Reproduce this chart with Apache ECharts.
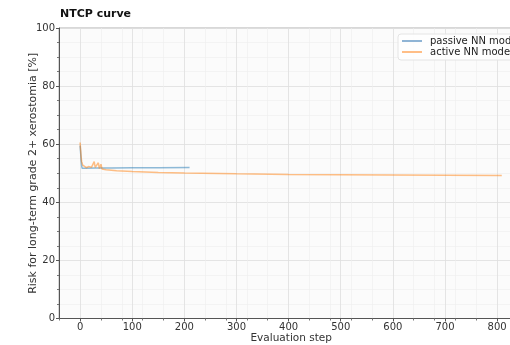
<!DOCTYPE html>
<html>
<head>
<meta charset="utf-8">
<script src="https://cdn.jsdelivr.net/npm/echarts@6/dist/echarts.min.js"></script>
<style>
  html, body { margin: 0; padding: 0; background: #fff; overflow: hidden; }
  #chart { width: 524px; height: 345px; }
</style>
</head>
<body>
<div id="chart"></div>
<script>
// NTCP risk per evaluation step for the two optimisation runs
const passiveSteps = [0, 1, 2, 3, 4, 10, 30, 60, 100, 150, 210];
const passiveRisk  = [59.5, 57.0, 54.5, 52.5, 51.7, 51.7, 51.8, 51.8, 51.9, 51.9, 52.0];

const activeSteps = [0, 1, 2, 3, 5, 8, 12, 16, 19, 22, 25, 27, 29, 32, 35, 37, 40, 42, 44, 50, 70, 100, 150, 200, 300, 400, 500, 600, 700, 809];
const activeRisk  = [60.6, 58.0, 55.5, 54.0, 52.8, 52.2, 51.9, 52.3, 51.9, 52.1, 52.0, 54.0, 52.0, 51.7, 53.6, 51.6, 53.1, 51.5, 51.4, 51.2, 50.9, 50.6, 50.3, 50.1, 49.8, 49.6, 49.5, 49.4, 49.3, 49.2];

const xTicks = [0, 100, 200, 300, 400, 500, 600, 700, 800];

const pairs = (xs, ys) => xs.map((x, i) => [x, ys[i]]);

const chart = echarts.init(document.getElementById('chart'));
const FONT = 'DejaVu Sans';

chart.setOption({
  animation: false,
  textStyle: { fontFamily: FONT },
  title: {
    text: 'NTCP curve',
    left: 55, top: 4,
    textStyle: { fontFamily: FONT, fontSize: 11, fontWeight: 'bold', color: '#111' }
  },
  legend: {
    orient: 'vertical',
    left: 398, top: 34,
    itemWidth: 20, itemHeight: 2, itemGap: 1,
    padding: [2, 8, 3, 4],
    backgroundColor: 'rgba(255,255,255,0.8)',
    borderColor: '#e4e4e4', borderWidth: 1, borderRadius: 3,
    icon: 'rect',
    textStyle: { fontFamily: FONT, fontSize: 10, color: '#222', padding: [0, 0, 0, 3] },
    data: ['passive NN model', 'active NN model']
  },
  grid: {
    left: 59, right: 0.6, top: 28, bottom: 26.5,
    outerBoundsMode: 'none',
    show: true, backgroundColor: '#fbfbfb', borderColor: '#b0b0b0', borderWidth: 1
  },
  xAxis: {
    type: 'value', min: -40.5, max: 850.5,
    customValues: xTicks,
    name: 'Evaluation step', nameLocation: 'middle', nameGap: 14.5, nameMoveOverlap: false,
    nameTextStyle: { fontFamily: FONT, fontSize: 10.5, color: '#333' },
    axisLine: { show: true, onZero: false, lineStyle: { color: '#555', width: 1 } },
    axisTick: { show: true, length: 3, lineStyle: { color: '#555' }, customValues: xTicks },
    axisLabel: { fontFamily: FONT, fontSize: 10, color: '#333', margin: 4, customValues: xTicks },
    splitLine: { show: true, lineStyle: { color: '#dedede', width: 0.8 } },
    minorTick: { show: true, splitNumber: 5, length: 2, lineStyle: { color: '#777' } },
    minorSplitLine: { show: true, lineStyle: { color: '#eeeeee', width: 0.6 } }
  },
  yAxis: {
    type: 'value', min: 0, max: 100, interval: 20,
    name: 'Risk for long-term grade 2+ xerostomia [%]', nameLocation: 'middle', nameGap: 20, nameMoveOverlap: false,
    nameTextStyle: { fontFamily: FONT, fontSize: 11, color: '#333' },
    axisLine: { show: true, onZero: false, lineStyle: { color: '#555', width: 1 } },
    axisTick: { show: true, length: 3, lineStyle: { color: '#555' } },
    axisLabel: { fontFamily: FONT, fontSize: 10, color: '#333', margin: 4 },
    splitLine: { show: true, lineStyle: { color: '#dedede', width: 0.8 } },
    minorTick: { show: true, splitNumber: 4, length: 2, lineStyle: { color: '#777' } },
    minorSplitLine: { show: true, lineStyle: { color: '#eeeeee', width: 0.6 } }
  },
  series: [
    {
      name: 'passive NN model', type: 'line', showSymbol: false,
      data: pairs(passiveSteps, passiveRisk),
      itemStyle: { color: '#8fb4d5' },
      lineStyle: { color: '#1f77b4', width: 1.5, opacity: 0.5 }
    },
    {
      name: 'active NN model', type: 'line', showSymbol: false,
      data: pairs(activeSteps, activeRisk),
      itemStyle: { color: '#ffbe86' },
      lineStyle: { color: '#ff7f0e', width: 1.5, opacity: 0.5 }
    }
  ]
});
</script>
</body>
</html>
